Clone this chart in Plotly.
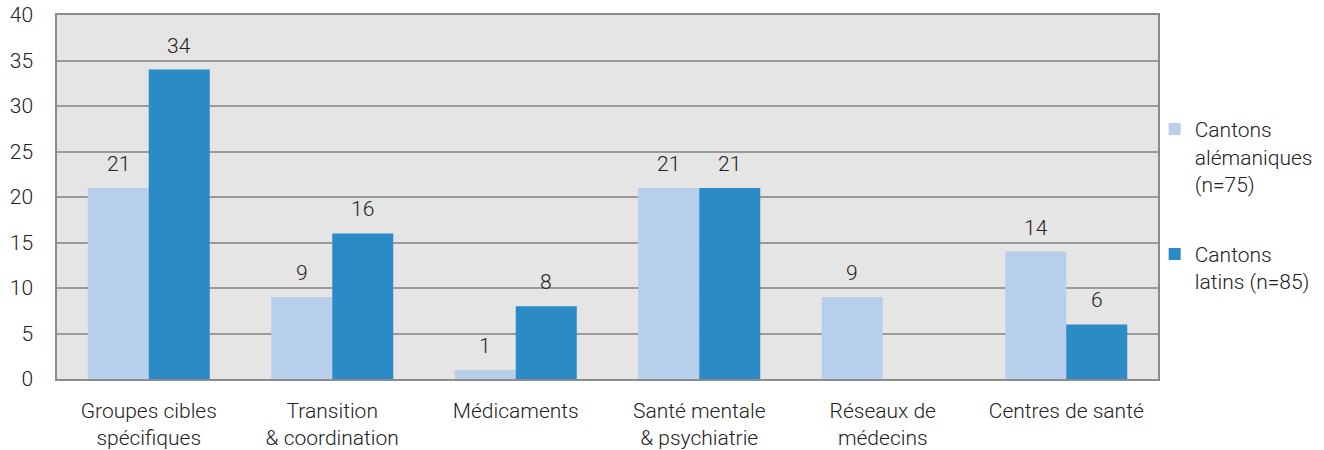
import plotly.graph_objects as go

categories = ["Groupes cibles<br>spécifiques", "Transition<br>& coordination", "Médicaments",
              "Santé mentale<br>& psychiatrie", "Réseaux de<br>médecins", "Centres de santé"]
alemaniques = [21, 9, 1, 21, 9, 14]
latins = [34, 16, 8, 21, 0, 6]
series_names = ["Cantons<br>alémaniques<br>(n=75)", "Cantons<br>latins (n=85)"]
y_ticks = [0, 5, 10, 15, 20, 25, 30, 35, 40]

colors = ["#b8cfeb", "#2b8bc6"]
FONT = "Roboto"
FS = 21
TXT = "#222222"

fig = go.Figure()
for name, vals, col, grp in zip(series_names, [alemaniques, latins], colors, ["a", "b"]):
    fig.add_trace(go.Bar(x=categories, y=vals, name=name, marker_color=col,
                         marker_line_width=0, legendgroup=grp))

annotations = []
for vals, shift in [(alemaniques, -30.5), (latins, 30.5)]:
    for c, v in zip(categories, vals):
        if v:
            annotations.append(dict(x=c, y=v, text=str(v), showarrow=False, xshift=shift,
                                    yshift=10, yanchor="bottom",
                                    font=dict(family=FONT, size=FS, color=TXT, weight=300)))

fig.update_layout(
    width=1324, height=450,
    margin=dict(l=57, r=166, t=15, b=71, autoexpand=False),
    paper_bgcolor="white", plot_bgcolor="#e5e5e5",
    barmode="group", bargap=0.335, bargroupgap=0,
    font=dict(family=FONT, size=FS, color=TXT, weight=300),
    annotations=annotations,
    legend=dict(x=0.997, xanchor="left", y=0.477, yanchor="middle", valign="top",
                traceorder="grouped", tracegroupgap=40, bgcolor="rgba(0,0,0,0)",
                font=dict(family=FONT, size=FS, color=TXT, weight=300)),
    showlegend=True,
)
fig.update_xaxes(showgrid=False, showline=True, mirror=True, linecolor="#8c8c8c", linewidth=1.5,
                 ticks="", ticklabelstandoff=12, automargin=False, ticklabeloverflow="allow",
                 tickfont=dict(family=FONT, size=FS, color=TXT, weight=300))
fig.update_yaxes(range=[0, 40], tickvals=y_ticks, showgrid=True, gridcolor="#9a9a9a", gridwidth=1.5,
                 showline=True, mirror=True, linecolor="#8c8c8c", linewidth=1.5, zeroline=False,
                 ticks="", ticklabelstandoff=18, automargin=False, ticklabeloverflow="allow",
                 tickfont=dict(family=FONT, size=FS, color=TXT, weight=300))

fig.write_html("out.html", config={"displayModeBar": False},
               post_script="document.body.style.margin='0px';")
